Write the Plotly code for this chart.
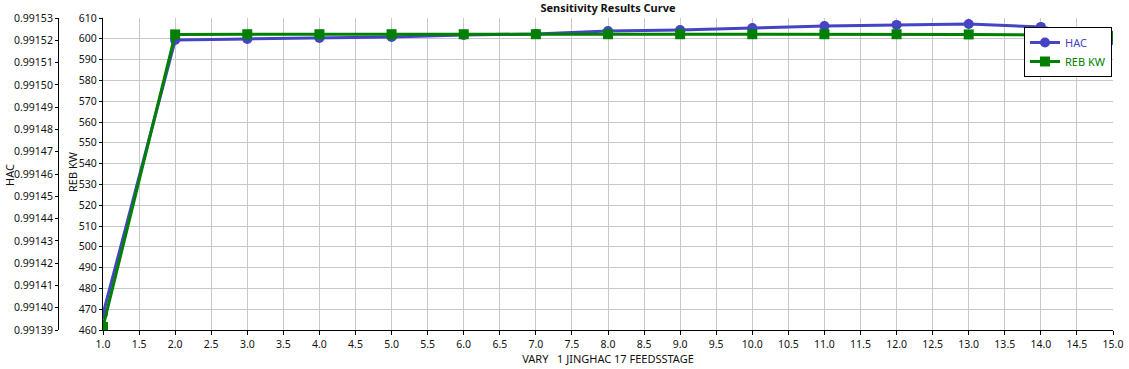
import plotly.graph_objects as go

x_vals = [1, 2, 3, 4, 5, 6, 7, 8, 9, 10, 11, 12, 13, 14, 15]
hac = [0.9913972, 0.9915201, 0.9915206, 0.9915210, 0.9915215, 0.9915224, 0.9915228,
       0.9915242, 0.9915246, 0.9915255, 0.9915264, 0.9915269, 0.9915273, 0.9915260, 0.9915201]
reb_kw = [461.5, 602.1, 602.2, 602.2, 602.2, 602.2, 602.2, 602.2, 602.2, 602.2, 602.2,
          602.2, 602.1, 601.8, 601.4]

W, H = 1129, 369
L_HAC = 58
L_PLOT = 103
R_PLOT = 1113
TOP = 18
BOT = 330
PH = BOT - TOP
PW = R_PLOT  # paper width (left margin is 0)

font = "Noto Sans, Open Sans, sans-serif"
blue = "#4444c4"
green = "#008000"
txt = "#111"

fig = go.Figure()
fig.add_trace(go.Scatter(
    x=x_vals, y=hac, name=f"<span style='color:{blue}'>HAC</span>",
    mode="lines+markers", yaxis="y",
    line=dict(color=blue, width=3),
    marker=dict(symbol="circle", size=10, color=blue),
))
fig.add_trace(go.Scatter(
    x=x_vals, y=reb_kw, name=f"<span style='color:{green}'>REB KW</span>",
    mode="lines+markers", yaxis="y2",
    line=dict(color=green, width=3),
    marker=dict(symbol="square", size=10, color=green),
))

tickfont = dict(family=font, size=10.5, color=txt)
titlefont = dict(family=font, size=11, color=txt)

fig.update_layout(
    width=W, height=H,
    margin=dict(l=0, r=W - R_PLOT, t=TOP, b=H - BOT, pad=0, autoexpand=False),
    paper_bgcolor="white", plot_bgcolor="white",
    font=dict(family=font, size=11, color=txt),
    title=dict(text="<b>Sensitivity Results Curve</b>", x=608 / PW, xref="paper", xanchor="center",
               y=1 - 8 / H, yanchor="middle", font=titlefont),
    showlegend=True,
    legend=dict(x=1112 / PW, y=(BOT - 27) / PH, xanchor="right", yanchor="top",
                bgcolor="white", bordercolor="black", borderwidth=1,
                font=dict(family=font, size=11), tracegroupgap=0,
                itemwidth=30),
    xaxis=dict(
        domain=[L_PLOT / PW, 1.0], range=[1, 15], dtick=0.5, tick0=1,
        tickformat=".1f", showgrid=True, gridcolor="#c8c8c8", gridwidth=1,
        showline=True, linecolor="black", linewidth=1, automargin=False,
        ticks="outside", ticklen=4, tickcolor="black", tickfont=tickfont,
        zeroline=False,
        title=dict(text="VARY   1 JINGHAC 17 FEEDSSTAGE", font=titlefont, standoff=4),
    ),
    yaxis=dict(
        anchor="free", position=L_HAC / PW, side="left", automargin=False,
        range=[0.99139, 0.99153], dtick=0.00001, tick0=0.99139, tickformat=".5f",
        showgrid=False, zeroline=False,
        showline=True, linecolor="black", linewidth=1,
        ticks="outside", ticklen=3, tickcolor="black", tickfont=tickfont,
    ),
    yaxis2=dict(
        overlaying="y", anchor="x", side="left", automargin=False,
        range=[460, 610], dtick=10, tick0=460,
        showgrid=True, gridcolor="#c8c8c8", gridwidth=1, zeroline=False,
        showline=True, linecolor="black", linewidth=1,
        ticks="outside", ticklen=3, tickcolor="black", tickfont=tickfont,
    ),
    annotations=[
        dict(text="HAC", textangle=-90, xref="paper", yref="paper",
             x=9 / PW, y=(BOT - 175) / PH, xanchor="center", yanchor="middle",
             showarrow=False, font=titlefont),
        dict(text="REB KW", textangle=-90, xref="paper", yref="paper",
             x=72 / PW, y=(BOT - 172) / PH, xanchor="center", yanchor="middle",
             showarrow=False, font=titlefont),
    ],
)

fig.write_html("out.html", config={"displayModeBar": False},
               post_script="document.body.style.margin='0';document.body.style.overflow='hidden';")
